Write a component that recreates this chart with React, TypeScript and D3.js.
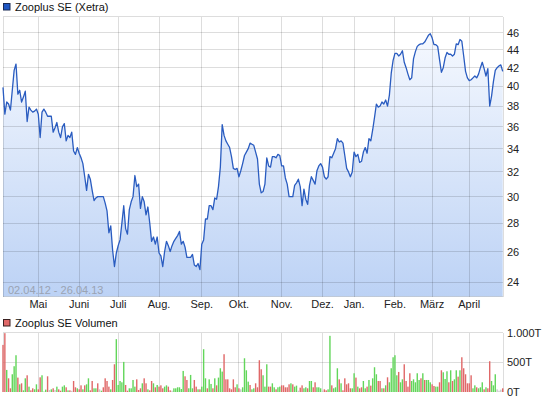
import React from "react";
import * as d3 from "d3";

// ---------- data ----------
const seriesName = "Zooplus SE (Xetra)";
const volumeName = "Zooplus SE Volumen";
const rangeLabel = "02.04.12 - 26.04.13";
const startDate = "2012-04-02";
const endDate = "2013-04-26";
const holidays = [
  "2012-04-06", "2012-04-09", "2012-05-01", "2012-12-24", "2012-12-25",
  "2012-12-26", "2012-12-31", "2013-01-01", "2013-03-29", "2013-04-01",
];
const monthKeys = ["2012-05", "2012-06", "2012-07", "2012-08", "2012-09", "2012-10", "2012-11", "2012-12", "2013-01", "2013-02", "2013-03", "2013-04"];
const monthLabels = ["Mai", "Juni", "Juli", "Aug.", "Sep.", "Okt.", "Nov.", "Dez.", "Jan.", "Feb.", "März", "April"];
const priceTicks = [24, 26, 28, 30, 32, 34, 36, 38, 40, 42, 44, 46];
const volumeTicks = [0, 500, 1000];
const volumeTickLabels = ["0T", "500T", "1.000T"];

// closing prices (EUR), one per trading day
const priceValues = [
  39.9, 37.2, 38.4, 38.2, 37.6, 39.6, 41.7, 42.4, 39.2, 39.6,
  38.4, 38.9, 39.5, 36.5, 37.9, 37.6, 37.4, 37.5, 37.7, 37.2,
  35.0, 37.4, 37.7, 37.4, 37.0, 37.0, 37.0, 35.5, 35.9, 36.4,
  35.5, 35.0, 36.0, 36.3, 34.7, 35.2, 35.0, 35.5, 33.8, 33.5,
  34.1, 33.6, 33.2, 32.7, 31.6, 30.5, 31.8, 31.4, 30.5, 29.7,
  29.9, 30.0, 30.0, 30.0, 30.0, 29.5, 28.9, 27.3, 27.8, 26.1,
  25.0, 25.9, 26.4, 26.8, 28.0, 29.3, 27.6, 27.2, 29.0, 29.6,
  30.0, 31.7, 30.8, 31.0, 29.1, 30.0, 29.6, 28.6, 29.2, 28.0,
  26.7, 27.0, 26.5, 27.0, 25.9, 25.7, 25.0, 26.0, 26.7, 26.4,
  26.0, 26.4, 26.7, 26.9, 27.1, 27.4, 26.5, 26.7, 26.3, 25.6,
  25.6, 25.6, 25.8, 25.1, 25.0, 25.2, 24.8, 26.5, 26.8, 28.3,
  28.3, 29.3, 29.3, 29.0, 29.9, 29.8, 30.8, 32.4, 36.2, 35.2,
  34.7, 34.4, 34.1, 33.3, 32.3, 32.2, 32.3, 31.6, 32.1, 32.7,
  33.4, 33.7, 34.0, 34.5, 34.4, 34.3, 33.7, 33.1, 31.0, 30.3,
  30.4, 31.0, 33.2, 32.5, 32.4, 33.3, 33.3, 33.2, 33.5, 33.4,
  32.5, 32.5, 31.5, 31.0, 30.0, 30.0, 30.0, 30.9, 31.1, 31.4,
  30.8, 29.3, 30.6, 29.8, 29.4, 30.9, 31.6, 31.3, 31.0, 32.1,
  32.5, 32.7, 32.4, 31.6, 31.4, 31.6, 33.3, 33.2, 33.6, 34.0,
  34.9, 34.6, 34.7, 34.5, 33.4, 32.3, 32.0, 31.6, 32.0, 33.7,
  33.3, 33.5, 32.8, 32.9, 33.7, 34.1, 33.6, 34.9, 34.7, 35.7,
  36.9, 38.2, 37.9, 38.0, 38.4, 38.2, 38.6, 38.0, 39.1, 41.4,
  42.8, 43.6, 43.6, 43.3, 43.5, 43.9, 42.6, 42.0, 41.3, 40.7,
  40.9, 43.0, 43.8, 44.4, 44.6, 44.7, 44.7, 44.9, 45.3, 45.7,
  45.9, 45.4, 44.6, 44.6, 44.4, 42.9, 41.5, 42.0, 43.1, 43.7,
  43.5, 43.5, 43.3, 43.5, 44.7, 44.6, 45.2, 45.0, 43.3, 41.6,
  40.9, 40.6, 40.7, 40.9, 41.1, 40.9, 41.3, 42.0, 42.6, 41.9,
  41.1, 41.9, 38.0, 39.0, 40.5, 41.7, 42.0, 42.2, 42.3, 41.6,
];

// volume in thousands of shares, one per trading day
const volumeValues = [
  792, 989, 371, 230, 62, 298, 433, 618, 242, 129,
  146, 28, 230, 281, 90, 28, 62, 45, 129, 45,
  247, 281, 6, 40, 264, 34, 45, 62, 34, 90,
  45, 22, 90, 112, 79, 28, 28, 20, 185, 79,
  62, 45, 112, 45, 112, 129, 230, 28, 185, 62,
  62, 146, 45, 22, 79, 230, 185, 90, 45, 202,
  466, 888, 118, 185, 163, 506, 118, 22, 62, 62,
  202, 90, 213, 34, 62, 146, 230, 146, 45, 28,
  185, 146, 79, 118, 90, 112, 62, 90, 112, 90,
  28, 22, 62, 62, 79, 79, 50, 354, 264, 202,
  62, 287, 62, 202, 90, 45, 45, 90, 719, 230,
  62, 213, 135, 62, 230, 112, 242, 399, 343, 635,
  213, 213, 62, 45, 213, 79, 129, 62, 45, 79,
  567, 365, 174, 118, 45, 62, 146, 79, 534, 382,
  281, 90, 466, 90, 90, 146, 79, 45, 79, 90,
  112, 112, 79, 79, 129, 146, 129, 90, 107, 22,
  73, 112, 62, 79, 62, 185, 185, 79, 163, 79,
  79, 62, 22, 45, 28, 45, 944, 112, 62, 79,
  399, 213, 146, 28, 230, 129, 146, 62, 62, 315,
  242, 90, 62, 79, 185, 62, 90, 202, 107, 230,
  416, 298, 185, 185, 62, 62, 112, 247, 163, 399,
  584, 618, 281, 337, 163, 213, 466, 185, 90, 315,
  185, 213, 163, 315, 202, 230, 315, 202, 202, 202,
  163, 129, 101, 90, 90, 163, 365, 331, 219, 348,
  163, 365, 185, 213, 365, 258, 365, 584, 399, 298,
  146, 146, 281, 62, 112, 79, 62, 79, 163, 45,
  79, 62, 517, 185, 112, 298, 45, 22, 40, 62,
];

// u = up day, d = down day, n = unchanged
const volumeTrend = (
  "ddudduuudu" + "duududduud" + "duuudnudnu" + "dduududndd" + "udduduuddu" +
  "udnuddddud" + "duuuuudduu" + "uuddduddud" + "dududdduud" + "dnuuuuuudd" +
  "uuudduduuu" + "duududuuud" + "ddddddudnu" + "uuuduudddd" + "uuudduuduu" +
  "ddddduduun" + "dduuduuddu" + "uundduuduu" + "ududdddduu" + "dudduududu" +
  "uuddududuu" + "uuuduudddd" + "uuuuududuu" + "udduudduuu" + "duduududdd" +
  "ddduuduuud" + "udduuunnnd"
).split("");

// ---------- component ----------
const FONT = "'Liberation Sans', Arial, Helvetica, sans-serif";
const GRID = "rgba(0,0,0,0.135)";
const trendColor: Record<string, string> = { u: "#62d65a", d: "#e06868", n: "#c8c8c8" };

export default function App() {
  const fmt = d3.utcFormat("%Y-%m-%d");
  const parse = d3.utcParse("%Y-%m-%d");
  const s = parse(startDate)!;
  const e = d3.utcDay.offset(parse(endDate)!, 1);
  const dates = d3.utcDay
    .range(s, e)
    .filter((d) => d.getUTCDay() !== 0 && d.getUTCDay() !== 6 && !holidays.includes(fmt(d)));

  const L = 3, R = 503;
  const pTop = 16.5, pBot = 296.5;
  const vTop = 332.5, vBot = 392;

  const x = d3.scaleLinear().domain([0, priceValues.length - 1]).range([L, 502.7]);
  const y = d3.scaleLog().domain([23.12, 48]).range([pBot, pTop]);
  const yv = d3.scaleLinear().domain([0, 1000]).range([vBot, vTop]);

  const monthFmt = d3.utcFormat("%Y-%m");
  const monthIdx = monthKeys.map((k) => dates.findIndex((d) => monthFmt(d) === k));

  const line = d3.line<number>().x((_, i) => x(i)).y((d) => y(d));
  const area = d3.area<number>().x((_, i) => x(i)).y0(pBot).y1((d) => y(d));

  const textStyle: React.CSSProperties = { fontFamily: FONT, fontSize: 11 };

  return (
    <svg
      width={545}
      height={401}
      style={{ position: "absolute", left: 0, top: 0, display: "block", background: "#fff" }}
    >
      <defs>
        <linearGradient id="areaGrad" gradientUnits="userSpaceOnUse" x1="0" y1={pTop} x2="0" y2={pBot}>
          <stop offset="0" stopColor="#f9fbff" />
          <stop offset="1" stopColor="#bcd2f5" />
        </linearGradient>
      </defs>

      {/* legend price */}
      <rect x={3.5} y={3.5} width={6.5} height={6.5} fill="#1f57c3" stroke="#1a2a55" strokeWidth={1} />
      <text x={15} y={10.5} style={textStyle} fill="#111">{seriesName}</text>

      {/* price area & line */}
      <path d={area(priceValues) || ""} fill="url(#areaGrad)" />

      {/* price grid */}
      <g stroke={GRID} strokeWidth={1} shapeRendering="crispEdges">
        {priceTicks.map((t) => (
          <line key={t} x1={L} x2={R} y1={y(t)} y2={y(t)} />
        ))}
        <line x1={L} x2={R} y1={pTop} y2={pTop} />
        <line x1={L} x2={R} y1={pBot} y2={pBot} />
        <line x1={L} x2={L} y1={pTop} y2={pBot} />
        <line x1={R} x2={R} y1={pTop} y2={pBot} />
        {monthIdx.map((mi, k) => (
          <line key={k} x1={x(mi)} x2={x(mi)} y1={pTop} y2={pBot} />
        ))}
      </g>

      <path d={line(priceValues) || ""} fill="none" stroke="#2a5cc0" strokeWidth={1.3} strokeLinejoin="round" />

      <text x={8} y={294} style={textStyle} fill="#9aa3b3">{rangeLabel}</text>

      {/* price axis labels */}
      {priceTicks.map((t) => (
        <text key={t} x={507} y={y(t) + 4} style={textStyle} fill="#222">{t}</text>
      ))}

      {/* month labels */}
      {monthIdx.map((mi, k) => (
        <text key={k} x={x(mi)} y={308} textAnchor="middle" style={textStyle} fill="#222">
          {monthLabels[k]}
        </text>
      ))}

      {/* legend volume */}
      <rect x={3.5} y={319.5} width={6.5} height={6.5} fill="#e06868" stroke="#3a2020" strokeWidth={1} />
      <text x={15} y={326.5} style={textStyle} fill="#111">{volumeName}</text>

      {/* volume grid */}
      <g stroke={GRID} strokeWidth={1} shapeRendering="crispEdges">
        {volumeTicks.filter((t) => t > 0).map((t) => (
          <line key={t} x1={L} x2={R} y1={yv(t)} y2={yv(t)} />
        ))}
        <line x1={L} x2={L} y1={vTop} y2={vBot} />
        <line x1={R} x2={R} y1={vTop} y2={vBot} />
        {monthIdx.map((mi, k) => (
          <line key={k} x1={x(mi)} x2={x(mi)} y1={vTop} y2={vBot} />
        ))}
      </g>

      {/* volume bars */}
      {volumeValues.map((v, i) => (
        <rect
          key={i}
          x={x(i) - 0.7}
          y={yv(v)}
          width={1.4}
          height={Math.max(0, vBot - yv(v))}
          fill={trendColor[volumeTrend[i]] || "#ccc"}
        />
      ))}

      {/* volume axis labels */}
      {volumeTicks.map((t, k) => (
        <text key={t} x={507} y={yv(t) + 4} style={textStyle} fill="#222">{volumeTickLabels[k]}</text>
      ))}
    </svg>
  );
}
